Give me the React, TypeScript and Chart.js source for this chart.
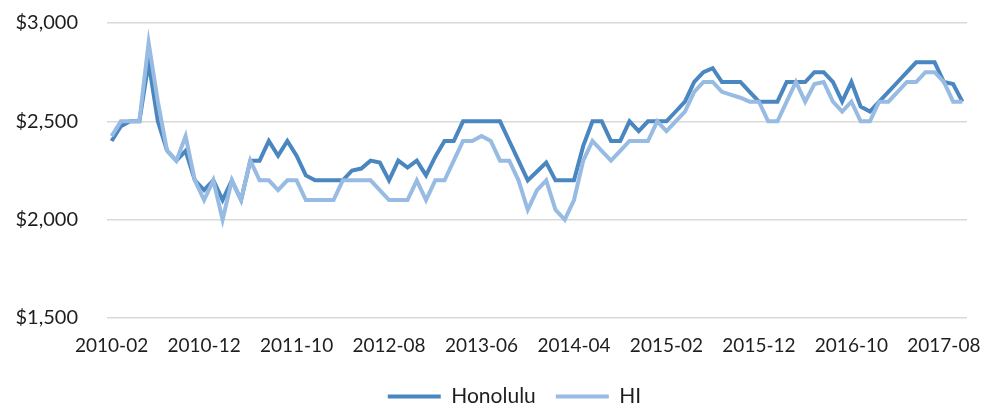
import React, { useEffect, useRef } from 'react';
import { Chart, registerables } from 'chart.js';

Chart.register(...registerables);

const months: string[] = [
  '2010-02', '2010-03', '2010-04', '2010-05', '2010-06', '2010-07', '2010-08', '2010-09', '2010-10', '2010-11', '2010-12',
  '2011-01', '2011-02', '2011-03', '2011-04', '2011-05', '2011-06', '2011-07', '2011-08', '2011-09', '2011-10', '2011-11', '2011-12',
  '2012-01', '2012-02', '2012-03', '2012-04', '2012-05', '2012-06', '2012-07', '2012-08', '2012-09', '2012-10', '2012-11', '2012-12',
  '2013-01', '2013-02', '2013-03', '2013-04', '2013-05', '2013-06', '2013-07', '2013-08', '2013-09', '2013-10', '2013-11', '2013-12',
  '2014-01', '2014-02', '2014-03', '2014-04', '2014-05', '2014-06', '2014-07', '2014-08', '2014-09', '2014-10', '2014-11', '2014-12',
  '2015-01', '2015-02', '2015-03', '2015-04', '2015-05', '2015-06', '2015-07', '2015-08', '2015-09', '2015-10', '2015-11', '2015-12',
  '2016-01', '2016-02', '2016-03', '2016-04', '2016-05', '2016-06', '2016-07', '2016-08', '2016-09', '2016-10', '2016-11', '2016-12',
  '2017-01', '2017-02', '2017-03', '2017-04', '2017-05', '2017-06', '2017-07', '2017-08', '2017-09', '2017-10',
];

const shownTickLabels: string[] = [
  '2010-02', '2010-12', '2011-10', '2012-08', '2013-06', '2014-04', '2015-02', '2015-12', '2016-10', '2017-08',
];

const honolulu: number[] = [
  2400, 2475, 2500, 2500, 2800, 2500, 2350, 2300, 2350, 2200,
  2150, 2200, 2100, 2200, 2100, 2300, 2300, 2400, 2325, 2400,
  2325, 2225, 2200, 2200, 2200, 2200, 2250, 2260, 2300, 2290,
  2200, 2300, 2265, 2300, 2225, 2320, 2400, 2400, 2500, 2500,
  2500, 2500, 2500, 2400, 2300, 2200, 2245, 2290, 2200, 2200,
  2200, 2375, 2500, 2500, 2400, 2400, 2500, 2450, 2500, 2500,
  2500, 2550, 2600, 2700, 2750, 2770, 2700, 2700, 2700, 2650,
  2600, 2600, 2600, 2700, 2700, 2700, 2750, 2750, 2700, 2600,
  2700, 2575, 2550, 2600, 2650, 2700, 2750, 2800, 2800, 2800,
  2700, 2690, 2600,
];

const hawaii: number[] = [
  2425, 2500, 2500, 2500, 2900, 2600, 2350, 2300, 2425, 2200,
  2100, 2200, 2000, 2200, 2100, 2300, 2200, 2200, 2150, 2200,
  2200, 2100, 2100, 2100, 2100, 2200, 2200, 2200, 2200, 2150,
  2100, 2100, 2100, 2200, 2100, 2200, 2200, 2300, 2400, 2400,
  2425, 2400, 2300, 2300, 2200, 2050, 2150, 2200, 2050, 2000,
  2100, 2300, 2400, 2350, 2300, 2350, 2400, 2400, 2400, 2500,
  2450, 2500, 2550, 2650, 2700, 2700, 2650, 2635, 2620, 2600,
  2600, 2500, 2500, 2600, 2700, 2600, 2690, 2700, 2600, 2550,
  2600, 2500, 2500, 2600, 2600, 2650, 2700, 2700, 2750, 2750,
  2700, 2600, 2600,
];

const yMin = 1500;
const yMax = 3000;
const yStep = 500;

const FONT = 'Lato, "Open Sans", "Liberation Sans", sans-serif';
const TEXT_COLOR = '#1e1e1e';
const DARK = '#4A86BF';
const LIGHT = '#97BBE2';

export default function App() {
  const ref = useRef<HTMLCanvasElement | null>(null);

  useEffect(() => {
    document.body.style.margin = '0';
    const canvas = ref.current;
    if (!canvas) return;
    const legendShift = {
      id: 'legendShift',
      beforeDraw(c: any) {
        if (c.legend) c.legend.left = 62;
      },
    };
    const chart = new Chart(canvas, {
      type: 'line',
      data: {
        labels: months,
        datasets: [
          {
            label: 'Honolulu',
            data: honolulu,
            borderColor: DARK,
            backgroundColor: DARK,
            borderWidth: 4,
            pointRadius: 0,
            tension: 0,
            order: 1,
          },
          {
            label: 'HI',
            data: hawaii,
            borderColor: LIGHT,
            backgroundColor: LIGHT,
            borderWidth: 4,
            pointRadius: 0,
            tension: 0,
            order: 0,
          },
        ],
      },
      options: {
        responsive: false,
        animation: false,
        layout: { padding: { left: 0, right: 15, top: 23, bottom: -10 } },
        scales: {
          x: {
            type: 'category',
            offset: true,
            grid: { display: false },
            border: { display: false },
            ticks: {
              autoSkip: false,
              maxRotation: 0,
              minRotation: 0,
              padding: 8,
              color: TEXT_COLOR,
              font: { family: FONT, size: 19 },
              callback: function (value: any) {
                const lbl = months[value as number];
                return shownTickLabels.includes(lbl) ? lbl : '';
              },
            },
            afterFit: (s: any) => {
              s.height = 48;
            },
          },
          y: {
            min: yMin,
            max: yMax,
            grid: { color: '#D9D9D9', lineWidth: 1.5, drawTicks: false },
            border: { display: false },
            ticks: {
              stepSize: yStep,
              padding: 29,
              color: TEXT_COLOR,
              font: { family: FONT, size: 20 },
              callback: (v: any) => '$' + Number(v).toLocaleString('en-US'),
            },
            afterFit: (s: any) => {
              s.width = 107;
              s.paddingTop = 0;
              s.paddingBottom = 0;
            },
          },
        },
        plugins: {
          tooltip: { enabled: false },
          legend: {
            position: 'bottom',
            labels: {
              boxWidth: 53,
              boxHeight: 4,
              padding: 20,
              color: TEXT_COLOR,
              font: { family: FONT, size: 21 },
              generateLabels: (c: any) =>
                c.data.datasets.map((ds: any, i: number) => ({
                  text: ds.label,
                  fillStyle: ds.borderColor,
                  strokeStyle: ds.borderColor,
                  lineWidth: 0,
                  hidden: false,
                  datasetIndex: i,
                  fontColor: TEXT_COLOR,
                })),
            },
          },
        },
      } as any,
      plugins: [legendShift],
    });
    return () => chart.destroy();
  }, []);

  return (
    <div style={{ position: 'absolute', left: 0, top: 0, width: 982, height: 407, background: '#fff' }}>
      <canvas ref={ref} width={982} height={407} style={{ display: 'block', width: 982, height: 407 }} />
    </div>
  );
}
